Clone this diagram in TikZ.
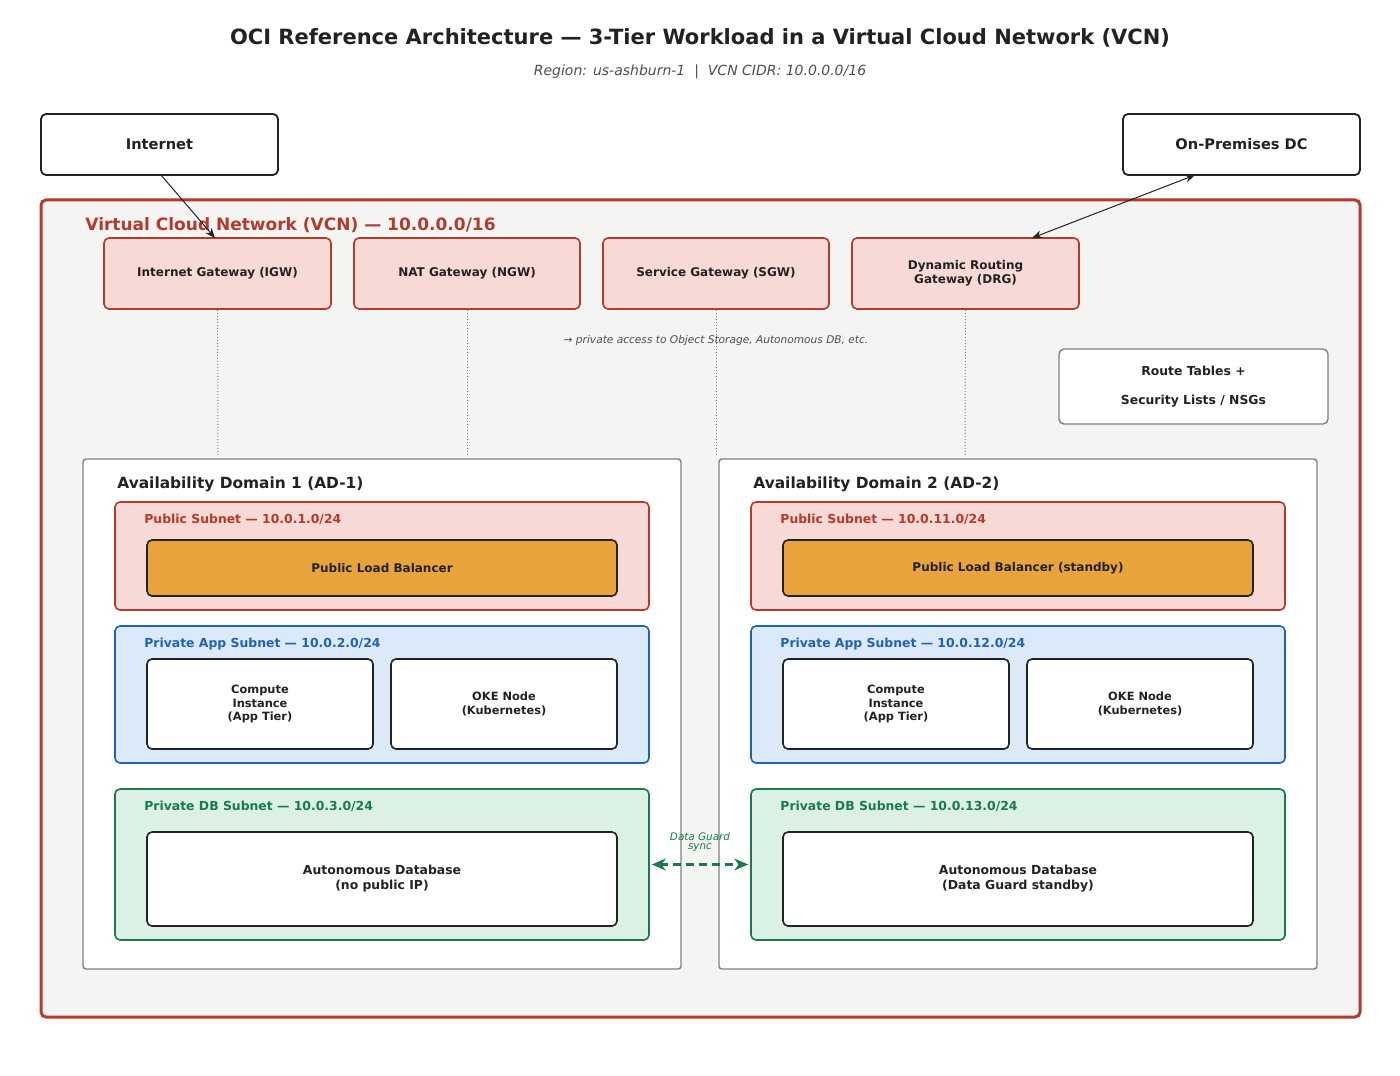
\documentclass[tikz,border=0pt]{standalone}
\usepackage{fontspec}
\setmainfont{DejaVu Sans}
\usetikzlibrary{arrows.meta}
\definecolor{vred}{HTML}{B53A2C}
\definecolor{pink}{HTML}{F7D9D5}
\definecolor{vbg}{HTML}{F4F4F2}
\definecolor{orng}{HTML}{E8A33D}
\definecolor{lblue}{HTML}{DBE9F8}
\definecolor{dblue}{HTML}{1F64B0}
\definecolor{lgreen}{HTML}{DBF1E4}
\definecolor{dgreen}{HTML}{1A7A4C}
\definecolor{ink}{HTML}{222222}
\newcommand\mybox[7]{\node[#6, minimum width={((#4)-(#2))*0.5pt}, minimum height={((#5)-(#3))*0.5pt}] (#1) at ({((#2)+(#4))/2},{((#3)+(#5))/2}) {#7};}
\newcommand\fs[1]{\fontsize{#1}{1.2\dimexpr#1pt\relax}\selectfont}
\tikzset{
 base/.style={rectangle, rounded corners=2.5pt, inner sep=0pt, align=center, font=\bfseries\fs{6.5}, text=ink},
 topbox/.style={base, draw=ink, line width=0.9pt, fill=white, font=\bfseries\fs{7.3}},
 gw/.style={base, draw=vred, line width=0.8pt, fill=pink, font=\bfseries\fs{6}},
 ad/.style={base, rounded corners=1.5pt, draw=gray, line width=0.7pt, fill=white},
 pub/.style={base, draw=vred, line width=0.8pt, fill=pink},
 app/.style={base, draw=dblue, line width=0.8pt, fill=lblue},
 db/.style={base, draw=dgreen, line width=0.8pt, fill=lgreen},
 inner/.style={base, draw=ink, line width=0.8pt, fill=white, font=\bfseries\fs{5.7}},
 lb/.style={base, draw=ink, line width=0.8pt, fill=orng, font=\bfseries\fs{6}},
 lbl/.style={anchor=west, inner sep=0pt},
 dot/.style={gray, densely dotted, line width=0.5pt},
 arr/.style={-{Stealth[length=5pt,width=4pt]}, line width=0.5pt, ink},
}
\begin{document}
\begin{tikzpicture}[x=0.5pt,y=-0.5pt]
\useasboundingbox (0,0) rectangle (1400,1075);
\node[font=\bfseries\fs{10.5}, text=ink] (title) at (700,38) {OCI Reference Architecture — 3-Tier Workload in a Virtual Cloud Network (VCN)};
\node[font=\itshape\fs{7}, text=ink!80] (sub) at (700,72) {Region: us-ashburn-1 \ | \ VCN CIDR: 10.0.0.0/16};
\mybox{inet}{41}{114}{278}{175}{topbox}{Internet}
\mybox{onp}{1123}{114}{1360}{175}{topbox}{On-Premises DC}
\mybox{vcn}{41}{200}{1360}{1017}{base, draw=vred, line width=1.5pt, fill=vbg}{}
\node[lbl, font=\bfseries\fs{8.5}, text=vred] (vcnl) at (85,225) {Virtual Cloud Network (VCN) — 10.0.0.0/16};
\mybox{igw}{104}{238}{331}{309}{gw}{Internet Gateway (IGW)}
\mybox{ngw}{354}{238}{580}{309}{gw}{NAT Gateway (NGW)}
\mybox{sgw}{603}{238}{829}{309}{gw}{Service Gateway (SGW)}
\mybox{drg}{852}{238}{1079}{309}{gw}{Dynamic Routing\\Gateway (DRG)}
\foreach \g/\x in {igw/218,ngw/467,sgw/716,drg/965}{\coordinate (\g e) at (\x,456); \draw[dot] (\g) -- (\g e);}
\node[font=\itshape\fs{5.3}, text=ink!80] (note) at (716,341) {→ private access to Object Storage, Autonomous DB, etc.};
\mybox{rt}{1059}{349}{1328}{424}{base, draw=gray, line width=0.7pt, fill=white, font=\bfseries\fs{6.2}}{Route Tables +\\[7pt]Security Lists / NSGs}
\foreach \i/\o/\pa/\pb/\pc/\lbt/\adb in {1/0/1/2/3/Public Load Balancer/{Autonomous Database\\(no public IP)},2/636/11/12/13/Public Load Balancer (standby)/{Autonomous Database\\(Data Guard standby)}}{
 \mybox{ad\i}{83+\o}{459}{681+\o}{969}{ad}{}
 \node[lbl, font=\bfseries\fs{7.7}, text=ink] (adl\i) at (117+\o,484) {Availability Domain \i{} (AD-\i)};
 \mybox{pub\i}{115+\o}{502}{649+\o}{610}{pub}{}
 \node[lbl, font=\bfseries\fs{6.2}, text=vred] (publ\i) at (144+\o,519) {Public Subnet — 10.0.\pa.0/24};
 \mybox{lb\i}{147+\o}{540}{617+\o}{596}{lb}{\lbt}
 \mybox{app\i}{115+\o}{626}{649+\o}{763}{app}{}
 \node[lbl, font=\bfseries\fs{6.2}, text=dblue] (appl\i) at (144+\o,644) {Private App Subnet — 10.0.\pb.0/24};
 \mybox{ci\i}{147+\o}{659}{373+\o}{749}{inner}{Compute\\Instance\\(App Tier)}
 \mybox{oke\i}{391+\o}{659}{617+\o}{749}{inner}{OKE Node\\(Kubernetes)}
 \mybox{db\i}{115+\o}{789}{649+\o}{940}{db}{}
 \node[lbl, font=\bfseries\fs{6.2}, text=dgreen] (dbl\i) at (144+\o,806) {Private DB Subnet — 10.0.\pc.0/24};
 \mybox{adb\i}{147+\o}{832}{617+\o}{926}{inner, font=\bfseries\fs{6.2}}{\adb}
}
\draw[{Stealth[length=7pt,width=6pt]}-{Stealth[length=7pt,width=6pt]}, dgreen, line width=1.2pt, dash pattern=on 4pt off 2.5pt, shorten <=1pt, shorten >=1pt] (db1.east) -- (db2.west);
\node[font=\itshape\fs{5.2}, text=dgreen, align=center] (dgl) at (700,842) {Data Guard\\[-2pt]sync};
\coordinate (ia) at (161,175);
\coordinate (ib) at (215,238);
\draw[arr] (ia) -- (ib);
\coordinate (da) at (1032,238);
\coordinate (db) at (1195,175);
\draw[arr, {Stealth[length=5pt,width=4pt]}-{Stealth[length=5pt,width=4pt]}] (da) -- (db);
\end{tikzpicture}
\end{document}
